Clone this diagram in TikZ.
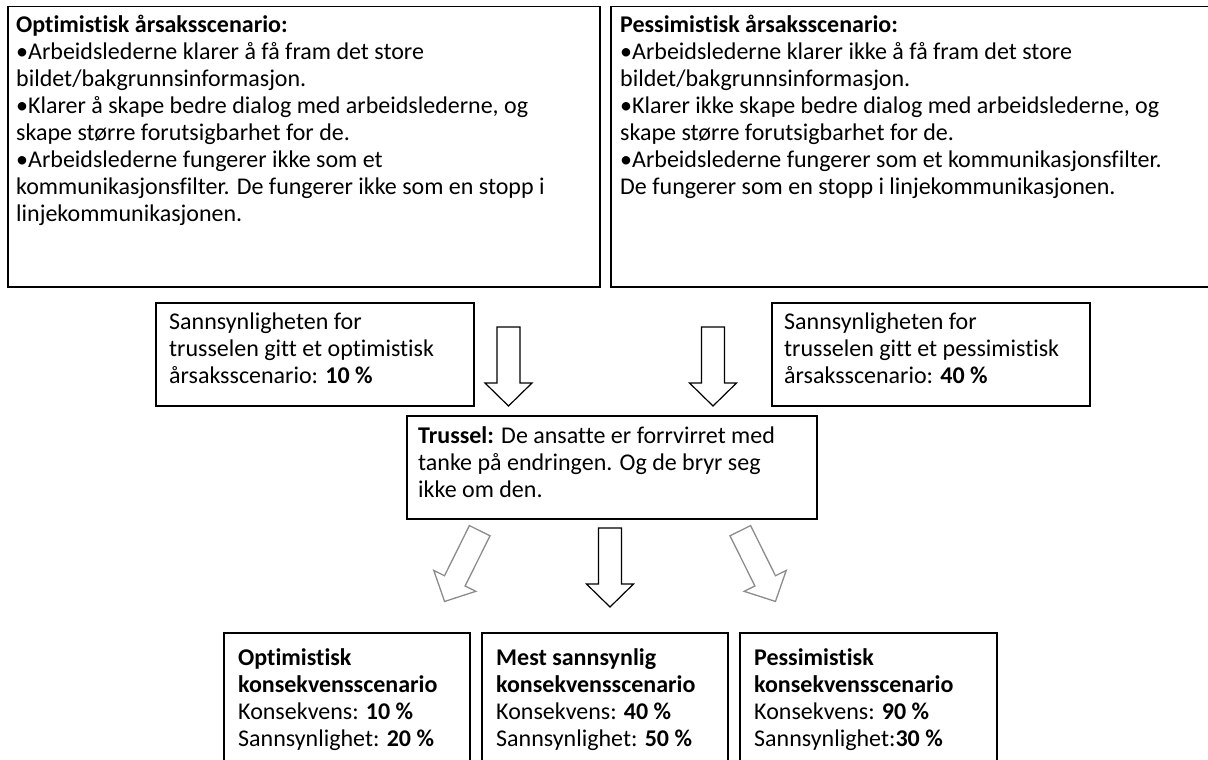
\documentclass[tikz,border=0pt]{standalone}
\usepackage{fontspec}
\setmainfont{Carlito}[Ligatures=NoCommon]
\begin{document}
\begin{tikzpicture}[x=1pt,y=-1pt,
  frame/.style={draw=black, line width=1.5pt, inner sep=0pt, anchor=north west},
  txt/.style={anchor=north west, inner sep=0pt, align=left,
    font=\fontsize{24}{27}\selectfont},
  blockarr/.style={draw=black, line width=1.2pt, fill=white, line join=miter},
  softarr/.style={draw=black!45, line width=1.3pt, fill=white, line join=miter},
  blockarrow/.pic={
    \path[pic actions] (-11.5,0) -- (11.5,0) -- (11.5,56) -- (23.5,56)
      -- (0,79) -- (-23.5,56) -- (-11.5,56) -- cycle;
  }
]
\clip (0,0) rectangle (1208,760);

% cause scenarios
\node[frame, minimum width=592pt, minimum height=280pt] (optcause) at (7,6) {};
\node[txt] (optcauset) at ([xshift=9pt,yshift=-9pt]optcause.north west)
  {\textbf{Optimistisk årsaksscenario:}\\
   •Arbeidslederne klarer å få fram det store\\
   bildet/bakgrunnsinformasjon.\\
   •Klarer å skape bedre dialog med arbeidslederne, og\\
   skape større forutsigbarhet for de.\\
   •Arbeidslederne fungerer ikke som et\\
   kommunikasjonsfilter. De fungerer ikke som en stopp i\\
   linjekommunikasjonen.};

\node[frame, minimum width=604pt, minimum height=280pt] (pescause) at (610,6) {};
\node[txt] (pescauset) at ([xshift=10pt,yshift=-9pt]pescause.north west)
  {\textbf{Pessimistisk årsaksscenario:}\\
   •Arbeidslederne klarer ikke å få fram det store\\
   bildet/bakgrunnsinformasjon.\\
   •Klarer ikke skape bedre dialog med arbeidslederne, og\\
   skape større forutsigbarhet for de.\\
   •Arbeidslederne fungerer som et kommunikasjonsfilter.\\
   De fungerer som en stopp i linjekommunikasjonen.};

% probabilities of the threat
\node[frame, minimum width=318pt, minimum height=103pt] (optprob) at (155,302) {};
\node[txt] (optprobt) at ([xshift=14pt,yshift=-11pt]optprob.north west)
  {Sannsynligheten for\\ trusselen gitt et optimistisk\\ årsaksscenario: \textbf{10 \%}};

\node[frame, minimum width=318pt, minimum height=103pt] (pesprob) at (771,302) {};
\node[txt] (pesprobt) at ([xshift=13pt,yshift=-11pt]pesprob.north west)
  {Sannsynligheten for\\ trusselen gitt et pessimistisk\\ årsaksscenario: \textbf{40 \%}};

% threat
\node[frame, minimum width=410pt, minimum height=103pt] (threat) at (406,415) {};
\node[txt] (threatt) at ([xshift=12pt,yshift=-11pt]threat.north west)
  {\textbf{Trussel:} De ansatte er forrvirret med\\ tanke på endringen. Og de bryr seg\\ ikke om den.};

% consequence scenarios
\node[frame, minimum width=246pt, minimum height=140pt] (optcons) at (223,632) {};
\node[txt] (optconst) at ([xshift=15pt,yshift=-16pt]optcons.north west)
  {\textbf{Optimistisk}\\ \textbf{konsekvensscenario}\\ Konsekvens: \textbf{10 \%}\\ Sannsynlighet: \textbf{20 \%}};

\node[frame, minimum width=246pt, minimum height=140pt] (midcons) at (481,632) {};
\node[txt] (midconst) at ([xshift=15pt,yshift=-16pt]midcons.north west)
  {\textbf{Mest sannsynlig}\\ \textbf{konsekvensscenario}\\ Konsekvens: \textbf{40 \%}\\ Sannsynlighet: \textbf{50 \%}};

\node[frame, minimum width=257pt, minimum height=140pt] (pescons) at (739,632) {};
\node[txt] (pesconst) at ([xshift=15pt,yshift=-16pt]pescons.north west)
  {\textbf{Pessimistisk}\\ \textbf{konsekvensscenario}\\ Konsekvens: \textbf{90 \%}\\ Sannsynlighet:\textbf{30 \%}};

% block arrows into the threat
\pic[blockarr] at (508.5,327) {blockarrow};
\pic[blockarr] at (713,327) {blockarrow};

% block arrows out of the threat
\pic[softarr, rotate=-26.4] at (479.7,530.7) {blockarrow};
\pic[blockarr] at (610,528) {blockarrow};
\pic[softarr, rotate=26.4] at (740.3,530.7) {blockarrow};
\end{tikzpicture}
\end{document}
